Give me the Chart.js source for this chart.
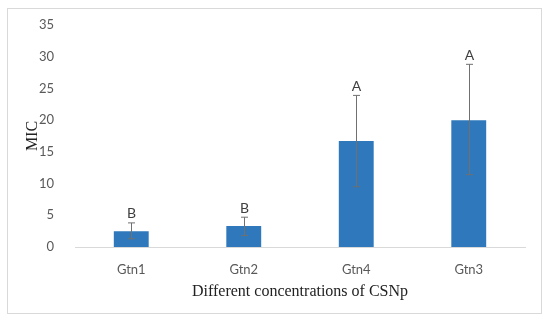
<!DOCTYPE html>
<html>
<head>
<meta charset="utf-8">
<script src="https://cdn.jsdelivr.net/npm/chart.js@4"></script>
<style>
  body { margin: 0; background: #fff; }
  #wrap { width: 550px; height: 323px; }
</style>
</head>
<body>
<div id="wrap"><canvas id="micChart" width="550" height="323"></canvas></div>
<script>
const categories = ['Gtn1', 'Gtn2', 'Gtn4', 'Gtn3'];
const micValues = [2.5, 3.3, 16.7, 20.0];
const errHigh = [3.8, 4.7, 23.9, 28.8];
const errLow = [1.3, 1.8, 9.5, 11.4];
const groupLetters = ['B', 'B', 'A', 'A'];

// frame around the whole figure
const framePlugin = {
    id: 'frame',
    beforeDraw(chart) {
        const ctx = chart.ctx;
        ctx.save();
        ctx.strokeStyle = '#d9d9d9';
        ctx.lineWidth = 1;
        ctx.strokeRect(7.5, 8.5, 534, 305);
        ctx.restore();
    }
};

// error bars + significance letters
const errorBarPlugin = {
    id: 'errorBars',
    afterDatasetsDraw(chart) {
        const ctx = chart.ctx;
        const yScale = chart.scales.y;
        const meta = chart.getDatasetMeta(0);
        ctx.save();
        meta.data.forEach((bar, i) => {
            const x = Math.round(bar.x) + 0.5;
            const yHi = yScale.getPixelForValue(errHigh[i]);
            const yLo = yScale.getPixelForValue(errLow[i]);
            ctx.strokeStyle = '#707070';
            ctx.lineWidth = 1;
            ctx.beginPath();
            ctx.moveTo(x, yHi);
            ctx.lineTo(x, yLo);
            ctx.moveTo(x - 3.5, yHi);
            ctx.lineTo(x + 3.5, yHi);
            ctx.moveTo(x - 3.5, yLo);
            ctx.lineTo(x + 3.5, yLo);
            ctx.stroke();

            ctx.fillStyle = '#404040';
            ctx.font = '14px Lato';
            ctx.textAlign = 'center';
            ctx.textBaseline = 'middle';
            ctx.fillText(groupLetters[i], x, yHi - 9);
        });
        ctx.restore();
    }
};

const data = {
    labels: categories,
    datasets: [{
        label: 'MIC',
        backgroundColor: '#2e78bb',
        data: micValues,
        barPercentage: 0.62,
        categoryPercentage: 0.5
    }]
};

const config = {
    type: 'bar',
    data: data,
    options: {
        responsive: false,
        animation: false,
        layout: {
            padding: { left: 20, right: 25, top: 25, bottom: 22 }
        },
        plugins: {
            legend: { display: false },
            tooltip: { enabled: false }
        },
        scales: {
            x: {
                grid: { display: false },
                border: { color: '#d9d9d9', width: 1 },
                ticks: {
                    color: '#595959',
                    font: { family: 'Lato', size: 13 },
                    padding: 7
                },
                title: {
                    display: true,
                    text: 'Different concentrations of CSNp',
                    color: '#222',
                    font: { family: 'Liberation Serif', size: 16 },
                    padding: { top: 0, bottom: 0 }
                },
                afterFit(scale) { scale.height = 54; }
            },
            y: {
                min: 0,
                max: 35,
                grid: { display: false },
                border: { display: false },
                ticks: {
                    stepSize: 5,
                    color: '#595959',
                    font: { family: 'Lato', size: 13 },
                    padding: 13
                },
                title: {
                    display: true,
                    text: 'MIC',
                    color: '#222',
                    font: { family: 'Liberation Serif', size: 16 },
                    padding: { top: 3, bottom: 0 }
                },
                afterFit(scale) { scale.width = 55; }
            }
        }
    },
    plugins: [framePlugin, errorBarPlugin]
};

const myChart = new Chart(document.getElementById('micChart'), config);
</script>
</body>
</html>
